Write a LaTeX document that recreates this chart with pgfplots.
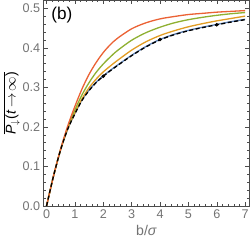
\documentclass[border=0pt]{standalone}
\usepackage{pgfplots}
\pgfplotsset{compat=1.18}
\usepackage{fontspec}
\setmainfont{Liberation Sans}
\definecolor{mblue}{rgb}{0.368,0.507,0.710}
\definecolor{morange}{rgb}{0.881,0.611,0.142}
\definecolor{mgreen}{rgb}{0.560,0.692,0.195}
\definecolor{mred}{rgb}{0.922,0.386,0.209}
\definecolor{tickgray}{rgb}{0.45,0.45,0.45}
\begin{document}
\begin{tikzpicture}
\begin{axis}[
  scale only axis,
  width=204pt, height=204pt,
  xmin=-0.1, xmax=7.15, ymin=0, ymax=0.52,
  xtick={0,1,...,7}, ytick={0,0.1,...,0.5},
  minor x tick num=4, minor y tick num=4,
  tick align=inside,
  major tick length=4pt, minor tick length=2pt,
  yticklabel style={/pgf/number format/.cd,fixed,fixed zerofill,precision=1},
  /pgf/number format/assume math mode=true,
  ticklabel style={font=\fontsize{12.5}{14}\selectfont, text=tickgray},
  axis line style={black!70, line width=0.6pt},
  tick style={black!70, line width=0.5pt},
  xlabel={\textcolor{tickgray}{b/\textit{σ}}},
  xlabel style={font=\fontsize{14}{16}\selectfont, yshift=0pt},
  ylabel={$\overline{\hbox{\textit{P}}_{\downarrow}\hbox{(\textit{t}}\,{\to}\,\infty\hbox{)}}$},
  ylabel style={font=\fontsize{14}{16}\selectfont, yshift=-4pt},
  clip=true,
]
\addplot[mblue, line width=1.3pt, smooth] coordinates {
(0,0) (0.25,0.077) (0.5,0.143) (0.75,0.195) (1.0,0.234) (1.25,0.268) (1.5,0.293) (1.75,0.313) (2.0,0.329) (2.25,0.343) (2.5,0.356) (3.0,0.381) (3.5,0.403) (4.0,0.421) (4.5,0.434) (5.0,0.444) (5.5,0.452) (6.0,0.459) (6.5,0.466) (7.0,0.472)};
\addplot[morange, line width=1.3pt, smooth] coordinates {
(0,0) (0.25,0.077) (0.5,0.143) (0.75,0.196) (1.0,0.236) (1.25,0.271) (1.5,0.299) (1.75,0.321) (2.0,0.339) (2.25,0.354) (2.5,0.368) (3.0,0.394) (3.5,0.415) (4.0,0.431) (4.5,0.443) (5.0,0.453) (5.5,0.461) (6.0,0.468) (6.5,0.474) (7.0,0.480)};
\addplot[mgreen, line width=1.3pt, smooth] coordinates {
(0,0) (0.25,0.077) (0.5,0.144) (0.75,0.199) (1.0,0.243) (1.25,0.281) (1.5,0.312) (1.75,0.338) (2.0,0.359) (2.25,0.377) (2.5,0.393) (3.0,0.419) (3.5,0.438) (4.0,0.452) (4.5,0.463) (5.0,0.471) (5.5,0.477) (6.0,0.482) (6.5,0.486) (7.0,0.489)};
\addplot[mred, line width=1.3pt, smooth] coordinates {
(0,0) (0.25,0.077) (0.5,0.145) (0.75,0.203) (1.0,0.252) (1.25,0.296) (1.5,0.333) (1.75,0.363) (2.0,0.388) (2.25,0.408) (2.5,0.424) (3.0,0.448) (3.5,0.463) (4.0,0.473) (4.5,0.479) (5.0,0.484) (5.5,0.487) (6.0,0.490) (6.5,0.492) (7.0,0.494)};
\addplot[black, line width=1.3pt, dash pattern=on 4pt off 2.5pt, smooth] coordinates {
(0,0) (0.25,0.077) (0.5,0.143) (0.75,0.195) (1.0,0.233) (1.25,0.267) (1.5,0.292) (1.75,0.312) (2.0,0.328) (2.25,0.342) (2.5,0.355) (3.0,0.380) (3.5,0.402) (4.0,0.420) (4.5,0.433) (5.0,0.443) (5.5,0.451) (6.0,0.458) (6.5,0.465) (7.0,0.471)};
\addplot[only marks, mark=*, mark size=1.6pt, black] coordinates {(2,0.328) (4,0.421) (6,0.458)};
\node[anchor=north west, font=\fontsize{17}{19}\selectfont] at (rel axis cs:0.02,0.985) {(b)};
\end{axis}
\end{tikzpicture}
\end{document}
